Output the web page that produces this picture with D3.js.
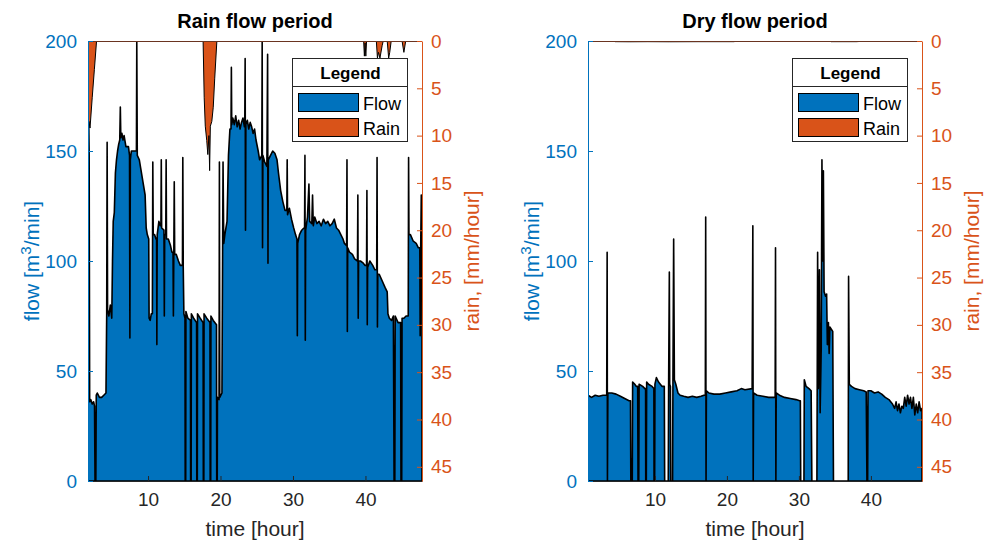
<!DOCTYPE html>
<html>
<head>
<meta charset="utf-8">
<script src="https://cdn.jsdelivr.net/npm/d3@7"></script>
<style>
  body { margin: 0; background: #fff; }
  svg { font-family: "Liberation Sans", Arial, Helvetica, sans-serif; }
</style>
</head>
<body>
<svg id="chart" width="984" height="544"></svg>
<script>
// ---- data ----
const rainFlowTime = [1.72,1.8,1.88,1.95,2.1,2.3,2.5,2.62,2.69,2.8,2.86,3.0,3.3,3.6,3.9,4.2,4.3,4.36,4.42,4.6,4.8,5.0,5.1,5.2,5.35,5.5,5.65,5.8,5.95,6.1,6.18,6.25,6.4,6.55,6.7,6.85,6.95,7.3,7.45,7.5,7.56,7.7,8.4,8.45,8.52,8.8,9.0,9.3,9.6,9.75,9.9,10.1,10.15,10.3,10.45,10.6,10.66,10.72,10.9,11.1,11.18,11.22,11.27,11.5,11.7,11.78,11.83,11.88,12.2,12.25,12.3,12.45,12.5,12.55,12.8,13.1,13.3,13.45,13.5,13.56,13.62,13.68,13.9,14.2,14.45,14.75,14.8,14.86,14.95,15.1,15.13,15.2,15.23,15.5,15.85,15.88,15.95,15.98,16.3,16.7,16.73,16.8,16.83,17.2,17.6,17.63,17.7,17.73,18.1,18.55,18.58,18.65,18.68,19.0,19.45,19.48,19.55,19.58,19.8,19.85,19.9,20.2,20.35,20.45,20.6,20.7,20.9,21.1,21.3,21.45,21.5,21.55,21.7,21.9,22.1,22.3,22.5,22.7,22.9,23.1,23.3,23.35,23.4,23.45,23.5,23.7,23.9,24.1,24.3,24.5,24.7,24.9,25.2,25.4,25.7,25.75,25.8,25.85,26.1,26.4,26.5,26.55,26.6,26.9,27.2,27.5,27.8,28.0,28.3,28.6,28.9,29.15,29.2,29.25,29.5,29.8,30.1,30.35,30.55,30.6,30.65,30.9,31.2,31.5,31.6,31.65,31.7,31.75,32.0,32.2,32.3,32.6,32.7,32.8,33.0,33.3,33.6,33.9,34.2,34.5,34.8,35.1,35.4,35.7,36.0,36.3,36.6,36.9,37.1,37.4,37.45,37.5,37.55,37.8,38.2,38.5,38.9,38.95,39.0,39.05,39.3,39.7,39.95,40.15,40.2,40.25,40.3,40.6,41.0,41.3,41.55,41.6,41.65,41.7,41.9,42.3,42.7,43.0,43.1,43.3,43.6,43.85,43.95,44.05,44.1,44.5,44.85,44.9,45.0,45.05,45.3,45.6,45.9,45.95,46.0,46.2,46.6,47.0,47.3,47.5,47.55,47.62,47.7,47.8];
const rainFlowValue = [36,170,148,36,37,35,36,34,0,0,39,40,38,38,39,40,76,154,78,75,80,74,100,118,122,140,146,150,153,155,170,156,158,155,157,154,152,152,148,65,146,150,150,200,148,146,142,136,130,115,112,110,74,73,76,76,145,112,112,110,110,62,112,118,116,116,146,115,114,75,112,112,146,110,110,107,104,104,75,104,136,103,103,100,98,98,147,97,76,74,0,0,77,74,73,0,0,76,74,72,0,0,76,74,72,0,0,76,74,72,0,0,75,73,71,0,0,38,37,145,38,40,145,108,112,114,118,148,160,160,188,162,165,162,166,161,164,160,163,165,161,162,192,114,162,164,160,163,161,158,160,155,150,146,148,200,106,148,145,143,194,99,146,148,150,149,146,140,132,127,123,123,146,121,124,119,115,112,110,66,108,112,114,115,115,148,64,114,120,135,118,117,130,116,120,117,118,116,119,117,118,116,117,119,115,114,112,110,108,107,146,68,106,104,103,101,100,130,74,100,100,99,98,98,132,71,97,100,98,96,96,147,70,94,94,91,88,86,76,74,73,75,0,0,75,72,72,0,0,74,74,75,75,147,112,112,109,108,106,106,66,106,130,108];
const rainTime = [1.72,1.85,2.0,2.3,2.6,2.9,17.6,17.75,17.9,18.1,18.25,18.4,18.5,18.6,18.8,19.0,19.2,19.5,39.75,39.85,39.95,40.05,40.15,41.5,41.65,41.8,42.0,42.3,42.45,43.0,43.2,43.35,43.55,45.05,45.3,45.55,47.8];
const rainValue = [9.5,8.5,9.2,6,3,0,0,6,9,10.5,12,10,13.7,9,8.5,7,4,0,0,1.6,0.2,1.6,0,0,1.8,1.2,1.8,0.5,0,0,1.8,1.2,0,0,1.2,0,0];

const dryFlowTime = [0.7,1.2,1.7,2.2,2.8,3.3,3.36,3.4,3.46,4.0,4.6,5.2,5.8,6.4,6.6,6.65,6.85,6.9,7.2,7.4,7.6,7.65,7.75,7.8,8.3,8.6,8.7,8.72,8.8,8.85,9.1,9.6,9.85,9.88,9.96,10.0,10.2,10.5,11.0,11.3,11.35,11.85,11.9,12.0,12.05,12.15,12.2,12.45,12.5,12.6,12.7,12.9,13.2,13.5,14.0,14.6,15.2,15.8,16.4,16.8,17.0,17.05,17.1,17.15,17.5,18.2,19.0,19.8,20.6,21.4,22.0,22.5,23.5,23.6,23.65,23.7,24.2,25.0,25.8,26.4,26.7,26.75,26.8,26.85,27.3,28.0,28.8,29.6,30.1,30.2,30.25,30.7,30.75,31.0,31.4,31.7,31.8,32.5,32.6,32.7,32.85,32.95,33.1,33.2,33.3,33.4,33.5,33.7,33.85,33.95,34.1,34.2,34.3,34.5,34.7,34.8,36.85,36.9,37.0,37.3,37.8,38.4,39.0,39.35,39.45,39.55,39.6,40.0,40.5,41.0,41.5,42.0,42.5,43.0,43.3,43.5,43.7,43.9,44.1,44.3,44.5,44.7,44.9,45.1,45.3,45.5,45.7,45.9,46.1,46.3,46.5,46.7,46.9,47.1];
const dryFlowValue = [39,38,39,38.5,39,39,104,0,40,40,39.5,38.5,37.5,36.5,36.5,0,0,45,44,43,43,0,0,44,43,42,42,0,0,45,44,43,42,0,0,44,47,45,43,43,0,0,44,95,44,43,0,0,45,110,46,44,40,39,38.5,38,38.5,38,38.5,39,39,120,0,41,40,39.5,39.5,40,40.5,41,42,41.5,42,116,0,40,39,38.5,38,38,38,106,0,40,39,38,37.5,37,36.5,36.5,0,0,46,43,42,41,0,0,104,42,96,31,60,146,100,141,86,84,85,62,72,58,70,69,68,0,0,93,44,43,42,41.5,41,40.5,0,0,41,41,40,40.5,39.5,38,37,35,33,36,32,35,31,34,33,38,34,39,35,38,33,38,30,35,31,36,32,33];
const dryRainTime = [0.7,4.2,4.5,6.5,9.0,12.0,16.0,21.0,21.3,34.3,34.5,38.0,39.5,47.1];
const dryRainValue = [0,0,0.07,0.08,0.07,0.08,0.07,0.07,0,0,0.07,0.07,0,0];

const xTicks = [10, 20, 30, 40];
const flowTicks = [0, 50, 100, 150, 200];
const rainTicks = [0, 5, 10, 15, 20, 25, 30, 35, 40, 45];

// ---- styling ----
const blue = '#0072BD';
const orange = '#D95319';
const axisGray = '#262626';
const H = { top: 41, bottom: 481 };
const tickFont = '19px';
const labelFont = '21px';

const svg = d3.select('#chart');

function drawPanel(p) {
    const g = svg.append('g');

    const x = d3.scaleLinear().domain(p.xDomain).range([p.left, p.right]);
    const yFlow = d3.scaleLinear().domain([0, 200]).range([H.bottom, H.top]);
    const yRain = d3.scaleLinear().domain([0, 46.5]).range([H.top, H.bottom]);

    const clipId = 'clip-' + p.id;
    svg.append('clipPath').attr('id', clipId)
        .append('rect')
        .attr('x', p.left).attr('y', H.top)
        .attr('width', p.right - p.left).attr('height', H.bottom - H.top);

    const plot = g.append('g').attr('clip-path', `url(#${clipId})`);

    // flow area
    const flowData = p.flowTime.map((t, i) => [t, p.flowValue[i]]);
    plot.append('path')
        .datum(flowData)
        .attr('d', d3.area().x(d => x(d[0])).y0(yFlow(0)).y1(d => yFlow(d[1])))
        .attr('fill', blue)
        .attr('stroke', '#000')
        .attr('stroke-width', 1.6)
        .attr('stroke-linejoin', 'round');

    // rain area, hanging from the top
    const rainData = p.rainTime.map((t, i) => [t, p.rainValue[i]]);
    plot.append('path')
        .datum(rainData)
        .attr('d', d3.area().x(d => x(d[0])).y0(yRain(0)).y1(d => yRain(d[1])))
        .attr('fill', orange)
        .attr('stroke', '#000')
        .attr('stroke-width', 1);

    // x axis (ticks inside)
    const xAxis = g.append('g')
        .attr('transform', `translate(0,${H.bottom})`)
        .call(d3.axisBottom(x).tickValues(xTicks).tickSizeInner(-5).tickSizeOuter(0).tickPadding(12));
    xAxis.select('.domain').attr('stroke', axisGray);
    xAxis.selectAll('.tick line').attr('stroke', axisGray);
    xAxis.selectAll('text').attr('fill', axisGray).style('font-size', tickFont);

    // top box line
    g.append('line')
        .attr('x1', p.left).attr('x2', p.right)
        .attr('y1', H.top + 0.5).attr('y2', H.top + 0.5)
        .attr('stroke', '#6a3420').attr('stroke-width', 1.2);

    // left flow axis
    const yl = g.append('g')
        .attr('transform', `translate(${p.left},0)`)
        .call(d3.axisLeft(yFlow).tickValues(flowTicks).tickSizeInner(-5).tickSizeOuter(0).tickPadding(11));
    yl.select('.domain').attr('stroke', blue);
    yl.selectAll('.tick line').attr('stroke', blue);
    yl.selectAll('text').attr('fill', blue).style('font-size', tickFont);

    // right rain axis
    const yr = g.append('g')
        .attr('transform', `translate(${p.right},0)`)
        .call(d3.axisRight(yRain).tickValues(rainTicks).tickSizeInner(-5).tickSizeOuter(0).tickPadding(9));
    yr.select('.domain').attr('stroke', orange);
    yr.selectAll('.tick line').attr('stroke', orange);
    yr.selectAll('text').attr('fill', orange).style('font-size', tickFont);

    const cx = (p.left + p.right) / 2;

    // title
    g.append('text')
        .attr('x', cx).attr('y', 28)
        .attr('text-anchor', 'middle')
        .style('font-size', '20px').style('font-weight', 'bold')
        .attr('fill', '#000')
        .text(p.title);

    // x label
    g.append('text')
        .attr('x', cx).attr('y', 536)
        .attr('text-anchor', 'middle')
        .style('font-size', labelFont)
        .attr('fill', axisGray)
        .text('time [hour]');

    // flow label with superscript
    const fl = g.append('text')
        .attr('transform', `translate(${p.left - 49},${(H.top + H.bottom) / 2}) rotate(-90)`)
        .attr('text-anchor', 'middle')
        .style('font-size', labelFont)
        .attr('fill', blue);
    fl.append('tspan').text('flow [m');
    fl.append('tspan').attr('dy', -8).style('font-size', '15px').text('3');
    fl.append('tspan').attr('dy', 8).text('/min]');

    // rain label
    g.append('text')
        .attr('transform', `translate(${p.right + 57},${(H.top + H.bottom) / 2}) rotate(-90)`)
        .attr('text-anchor', 'middle')
        .style('font-size', labelFont)
        .attr('fill', orange)
        .text('rain, [mm/hour]');

    // legend
    const lx = p.right - 130, ly = 58, lw = 115, lh = 83;
    const lg = g.append('g');
    lg.append('rect').attr('x', lx + 0.5).attr('y', ly + 0.5).attr('width', lw).attr('height', lh)
        .attr('fill', '#fff').attr('stroke', axisGray).attr('stroke-width', 1);
    lg.append('line').attr('x1', lx).attr('x2', lx + lw).attr('y1', ly + 28.5).attr('y2', ly + 28.5)
        .attr('stroke', axisGray);
    lg.append('text').attr('x', lx + lw / 2 + 1).attr('y', ly + 21)
        .attr('text-anchor', 'middle').style('font-size', '17px').style('font-weight', 'bold')
        .attr('fill', '#000').text('Legend');
    const items = [['Flow', blue], ['Rain', orange]];
    items.forEach((it, i) => {
        const iy = ly + 35 + i * 25;
        lg.append('rect').attr('x', lx + 6.5).attr('y', iy + 0.5).attr('width', 60).attr('height', 18)
            .attr('fill', it[1]).attr('stroke', '#000').attr('stroke-width', 1);
        lg.append('text').attr('x', lx + 71).attr('y', iy + 17)
            .style('font-size', '18px').attr('fill', '#000').text(it[0]);
    });
}

drawPanel({
    id: 'rain', title: 'Rain flow period', left: 88, right: 422, xDomain: [1.72, 47.8],
    flowTime: rainFlowTime, flowValue: rainFlowValue, rainTime: rainTime, rainValue: rainValue
});
drawPanel({
    id: 'dry', title: 'Dry flow period', left: 588, right: 922, xDomain: [0.7, 47.1],
    flowTime: dryFlowTime, flowValue: dryFlowValue, rainTime: dryRainTime, rainValue: dryRainValue
});
</script>
</body>
</html>
